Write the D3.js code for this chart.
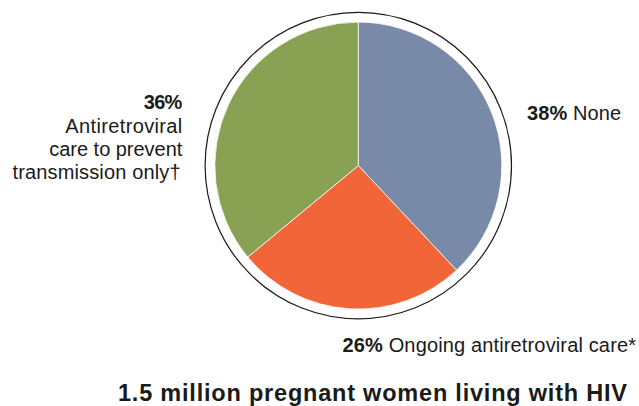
<!DOCTYPE html>
<html>
<head>
<meta charset="utf-8">
<script src="https://cdn.jsdelivr.net/npm/d3@7"></script>
<style>
  html, body { margin: 0; padding: 0; background: #ffffff; }
  svg { display: block; }
  text { font-family: "Liberation Sans", Arial, Helvetica, sans-serif; fill: #1a1a1a; }
</style>
</head>
<body>
<svg id="chart" width="639" height="406"></svg>
<script>
const categories = ["None", "Ongoing antiretroviral care*", "Antiretroviral care to prevent transmission only\u2020"];
const values = [38, 26, 36];
const colors = ["#788AA8", "#F26539", "#88A152"];
const title = "1.5 million pregnant women living with HIV";

const svg = d3.select("#chart");
const cx = 358.3, cy = 165.6;
const rPie = 143.5, rRing = 153.2;

const pie = d3.pie().sort(null).value(d => d.value);
const arcs = pie(categories.map((c, i) => ({ cat: c, value: values[i], color: colors[i] })));
const arc = d3.arc().innerRadius(0).outerRadius(rPie);

const g = svg.append("g").attr("transform", `translate(${cx},${cy})`);
g.append("circle").attr("r", rRing).attr("fill", "none").attr("stroke", "#1a1a1a").attr("stroke-width", 1.2);
g.selectAll("path.slice").data(arcs).enter().append("path")
  .attr("class", "slice")
  .attr("d", arc)
  .attr("fill", d => d.data.color)
  .attr("stroke", "#ffffff")
  .attr("stroke-width", 0.8);

function fmt(v) { return v + "%"; }

function fitText(sel, w) {
  sel.attr("textLength", w).attr("lengthAdjust", "spacing");
  return sel;
}

// None label
const t1 = svg.append("text").attr("x", 527).attr("y", 119.5).attr("font-size", 20);
t1.append("tspan").attr("font-weight", "bold").text(fmt(values[0]));
t1.append("tspan").text(" " + categories[0]);
fitText(t1, 94);

// Ongoing label
const t2 = svg.append("text").attr("x", 342.5).attr("y", 352).attr("font-size", 20);
t2.append("tspan").attr("font-weight", "bold").text(fmt(values[1]));
t2.append("tspan").text(" " + categories[1]);
fitText(t2, 293.5);

// Left label (multi-line, right aligned)
const leftLines = ["Antiretroviral", "care to prevent", "transmission only\u2020"];
const leftWidths = [117, 133, 168];
const leftY = [133, 156, 178.5];
fitText(svg.append("text").attr("text-anchor", "end").attr("x", 182.3).attr("y", 108.5)
  .attr("font-size", 20).attr("font-weight", "bold").text(fmt(values[2])), 38.5);
leftLines.forEach((l, i) => {
  fitText(svg.append("text").attr("text-anchor", "end").attr("x", i === 2 ? 180.5 : 182.3).attr("y", leftY[i])
    .attr("font-size", 20).text(l), leftWidths[i]);
});

// Title
fitText(svg.append("text").attr("x", 118).attr("y", 401).attr("font-size", 23.5).attr("font-weight", "bold").text(title), 509);
</script>
</body>
</html>
